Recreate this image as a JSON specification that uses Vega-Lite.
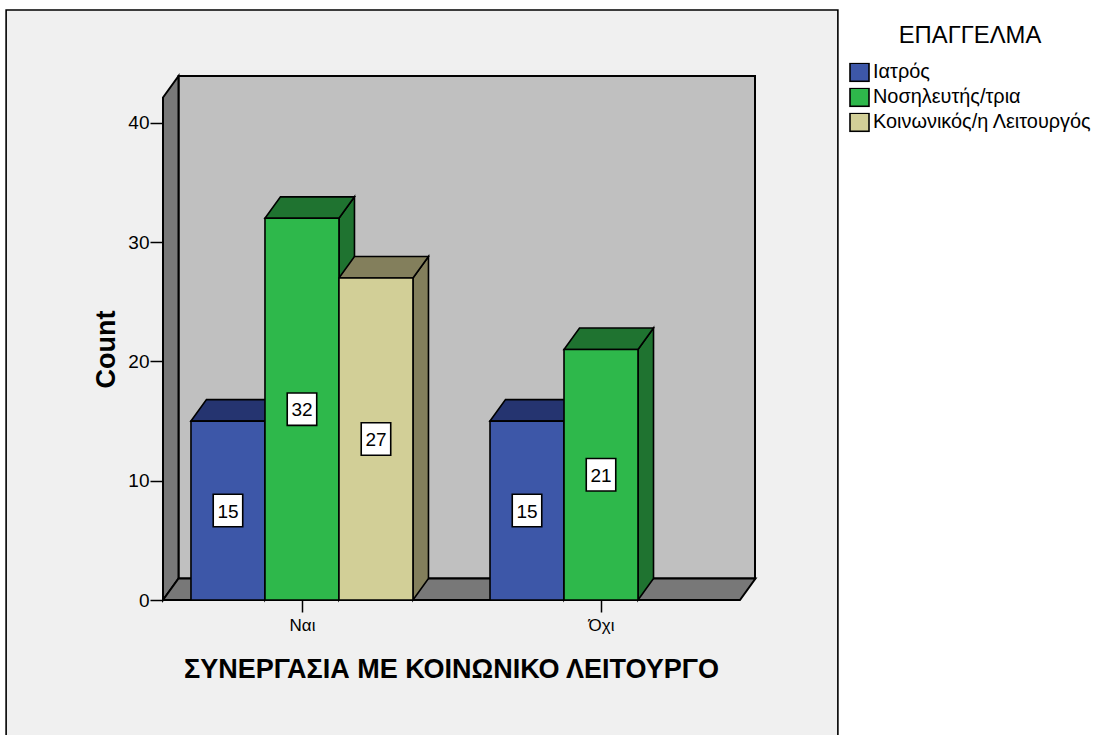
{
  "$schema": "https://vega.github.io/schema/vega-lite/v6.json",
  "autosize": {"type": "none"},
  "padding": {"left": 163, "top": 76, "right": 342, "bottom": 135},
  "width": 592,
  "height": 524,
  "background": "#ffffff",
  "config": {
    "view": {"stroke": null},
    "font": "Liberation Sans"
  },
  "datasets": {
    "counts": [
      {"cooperation": "Ναι", "profession": "Ιατρός", "count": 15},
      {"cooperation": "Ναι", "profession": "Νοσηλευτής/τρια", "count": 32},
      {"cooperation": "Ναι", "profession": "Κοινωνικός/η Λειτουργός", "count": 27},
      {"cooperation": "Όχι", "profession": "Ιατρός", "count": 15},
      {"cooperation": "Όχι", "profession": "Νοσηλευτής/τρια", "count": 21}
    ],
    "single": [{"face": "frame"}]
  },
  "layer": [
    {
      "description": "Light panel behind the whole chart",
      "data": {"name": "single"},
      "mark": {"type": "rect", "fill": "#f0f0f0", "stroke": "#000000", "strokeWidth": 1.6, "clip": false},
      "encoding": {
        "x": {"datum": -2.12, "type": "quantitative", "scale": {"domain": [0, 8], "nice": false, "zero": false},
          "title": "ΣΥΝΕΡΓΑΣΙΑ ΜΕ ΚΟΙΝΩΝΙΚΟ ΛΕΙΤΟΥΡΓΟ",
          "axis": {
            "values": [1.878, 5.919],
            "labelExpr": "datum.value < 3 ? 'Ναι' : 'Όχι'",
            "zindex": 1, "grid": false, "domain": false,
            "tickColor": "#000000", "tickSize": 12, "tickWidth": 1.5,
            "labelColor": "#000000", "labelFont": "Liberation Sans", "labelFontSize": 17, "labelPadding": 5,
            "titleColor": "#000000", "titleFont": "Liberation Sans", "titleFontSize": 27, "titleFontWeight": "bold",
            "titleX": 288, "titleY": 69, "titleAnchor": "middle", "titleAlign": "center", "titleBaseline": "middle"
          }},
        "x2": {"datum": 9.12},
        "y": {"datum": 49.46, "type": "quantitative", "scale": {"domain": [0, 43.93], "nice": false, "zero": false},
          "title": "Count",
          "axis": {
            "values": [0, 10, 20, 30, 40],
            "zindex": 1, "grid": false, "domain": false,
            "tickColor": "#000000", "tickSize": 13, "tickWidth": 1.5,
            "labelColor": "#000000", "labelFont": "Liberation Sans", "labelFontSize": 19, "labelPadding": 1,
            "titleColor": "#000000", "titleFont": "Liberation Sans", "titleFontSize": 27, "titleFontWeight": "bold",
            "titleX": -57, "titleY": 273, "titleAnchor": "middle", "titleAlign": "center", "titleBaseline": "middle"
          }},
        "y2": {"datum": -20}
      }
    },
    {
      "description": "Back wall of the box",
      "data": {"name": "single"},
      "mark": {"type": "rect", "fill": "#c0c0c0", "stroke": "#000000", "strokeWidth": 2},
      "encoding": {
        "x": {"datum": 0.2095, "type": "quantitative", "title": "ΣΥΝΕΡΓΑΣΙΑ ΜΕ ΚΟΙΝΩΝΙΚΟ ΛΕΙΤΟΥΡΓΟ"},
        "x2": {"datum": 8},
        "y": {"datum": 1.8, "type": "quantitative", "title": "Count"},
        "y2": {"datum": 43.93}
      }
    },
    {
      "description": "Left wall, a parallelogram running into the depth",
      "data": {"name": "single"},
      "transform": [
        {"calculate": "[0, 1]", "as": "corner"},
        {"flatten": ["corner"]},
        {"calculate": "datum.corner * 0.2095", "as": "px"},
        {"calculate": "datum.corner * 1.8", "as": "low"},
        {"calculate": "42.13 + datum.corner * 1.8", "as": "high"}
      ],
      "mark": {"type": "area", "fill": "#787878", "stroke": "#000000", "strokeWidth": 2, "clip": false},
      "encoding": {
        "x": {"field": "px", "type": "quantitative", "title": "ΣΥΝΕΡΓΑΣΙΑ ΜΕ ΚΟΙΝΩΝΙΚΟ ΛΕΙΤΟΥΡΓΟ"},
        "y": {"field": "high", "type": "quantitative", "title": "Count"},
        "y2": {"field": "low"}
      }
    },
    {
      "description": "Floor of the box",
      "data": {"name": "single"},
      "transform": [
        {"calculate": "[0, 1, 2, 3]", "as": "corner"},
        {"flatten": ["corner"]},
        {"calculate": "[0, 0.2095, 7.797, 8.0065][datum.corner]", "as": "px"},
        {"calculate": "datum.corner == 0 ? 0 : 1.8", "as": "high"},
        {"calculate": "datum.corner == 3 ? 1.8 : 0", "as": "low"}
      ],
      "mark": {"type": "area", "fill": "#787878", "stroke": "#000000", "strokeWidth": 2, "clip": false},
      "encoding": {
        "x": {"field": "px", "type": "quantitative", "title": "ΣΥΝΕΡΓΑΣΙΑ ΜΕ ΚΟΙΝΩΝΙΚΟ ΛΕΙΤΟΥΡΓΟ"},
        "y": {"field": "high", "type": "quantitative", "title": "Count"},
        "y2": {"field": "low"}
      }
    },
    {
      "description": "Right-hand faces of the bars",
      "data": {"name": "counts"},
      "transform": [
        {"calculate": "(datum.cooperation == 'Ναι' ? 1.878 : 5.919) + (datum.profession == 'Ιατρός' ? -1.5 : datum.profession == 'Νοσηλευτής/τρια' ? -0.5 : 0.5)", "as": "left"},
        {"calculate": "datum.cooperation + datum.profession", "as": "bar"},
        {"calculate": "[0, 1]", "as": "corner"},
        {"flatten": ["corner"]},
        {"calculate": "datum.left + 1 + datum.corner * 0.2095", "as": "px"},
        {"calculate": "datum.count + datum.corner * 1.8", "as": "high"},
        {"calculate": "datum.corner * 1.8", "as": "low"}
      ],
      "mark": {"type": "area", "stroke": "#000000", "strokeWidth": 1.6, "opacity": 1},
      "encoding": {
        "x": {"field": "px", "type": "quantitative", "title": "ΣΥΝΕΡΓΑΣΙΑ ΜΕ ΚΟΙΝΩΝΙΚΟ ΛΕΙΤΟΥΡΓΟ"},
        "y": {"field": "high", "type": "quantitative", "title": "Count"},
        "y2": {"field": "low"},
        "detail": {"field": "bar"},
        "color": {"field": "profession", "type": "nominal", "legend": null,
          "scale": {"domain": ["Ιατρός", "Νοσηλευτής/τρια", "Κοινωνικός/η Λειτουργός"], "range": ["#253470", "#1f7330", "#837f5c"]}}
      }
    },
    {
      "description": "Top faces of the bars",
      "data": {"name": "counts"},
      "transform": [
        {"calculate": "(datum.cooperation == 'Ναι' ? 1.878 : 5.919) + (datum.profession == 'Ιατρός' ? -1.5 : datum.profession == 'Νοσηλευτής/τρια' ? -0.5 : 0.5)", "as": "left"},
        {"calculate": "datum.cooperation + datum.profession", "as": "bar"},
        {"calculate": "[0, 1, 2, 3]", "as": "corner"},
        {"flatten": ["corner"]},
        {"calculate": "datum.left + [0, 0.2095, 1, 1.2095][datum.corner]", "as": "px"},
        {"calculate": "datum.count + (datum.corner == 0 ? 0 : 1.8)", "as": "high"},
        {"calculate": "datum.count + (datum.corner == 3 ? 1.8 : 0)", "as": "low"}
      ],
      "mark": {"type": "area", "stroke": "#000000", "strokeWidth": 1.6, "opacity": 1},
      "encoding": {
        "x": {"field": "px", "type": "quantitative", "title": "ΣΥΝΕΡΓΑΣΙΑ ΜΕ ΚΟΙΝΩΝΙΚΟ ΛΕΙΤΟΥΡΓΟ"},
        "y": {"field": "high", "type": "quantitative", "title": "Count"},
        "y2": {"field": "low"},
        "detail": {"field": "bar"},
        "color": {"field": "profession", "type": "nominal", "legend": null,
          "scale": {"domain": ["Ιατρός", "Νοσηλευτής/τρια", "Κοινωνικός/η Λειτουργός"], "range": ["#253470", "#1f7330", "#837f5c"]}}
      }
    },
    {
      "description": "Front faces of the bars, which carry the legend",
      "data": {"name": "counts"},
      "transform": [
        {"calculate": "(datum.cooperation == 'Ναι' ? 1.878 : 5.919) + (datum.profession == 'Ιατρός' ? -1.5 : datum.profession == 'Νοσηλευτής/τρια' ? -0.5 : 0.5)", "as": "left"},
        {"calculate": "datum.left + 1", "as": "right"}
      ],
      "mark": {"type": "rect", "stroke": "#000000", "strokeWidth": 1.6, "opacity": 1},
      "encoding": {
        "x": {"field": "left", "type": "quantitative", "title": "ΣΥΝΕΡΓΑΣΙΑ ΜΕ ΚΟΙΝΩΝΙΚΟ ΛΕΙΤΟΥΡΓΟ"},
        "x2": {"field": "right"},
        "y": {"field": "count", "type": "quantitative", "title": "Count"},
        "y2": {"datum": 0},
        "color": {"field": "profession", "type": "nominal",
          "scale": {"domain": ["Ιατρός", "Νοσηλευτής/τρια", "Κοινωνικός/η Λειτουργός"], "range": ["#3d57a8", "#2eb84b", "#d2cf97"]},
          "legend": {
            "orient": "none", "legendX": 686, "legendY": -52,
            "title": "ΕΠΑΓΓΕΛΜΑ",
            "titleFont": "Liberation Sans", "titleFontSize": 23.8, "titleFontWeight": "normal", "titleColor": "#000000",
            "titleAnchor": "middle", "titleLimit": 300, "titlePadding": 15,
            "labelFont": "Liberation Sans", "labelFontSize": 19.9, "labelColor": "#000000", "labelLimit": 320, "labelOffset": 3,
            "symbolType": "M-1,-0.95H1V0.95H-1Z", "symbolSize": 361, "symbolStrokeColor": "#000000", "symbolStrokeWidth": 1.6, "symbolOpacity": 1,
            "rowPadding": 4, "clipHeight": 19
          }}
      }
    },
    {
      "description": "White boxes behind the value labels",
      "data": {"name": "counts"},
      "transform": [
        {"calculate": "(datum.cooperation == 'Ναι' ? 1.878 : 5.919) + (datum.profession == 'Ιατρός' ? -1 : datum.profession == 'Νοσηλευτής/τρια' ? 0 : 1)", "as": "middle"},
        {"calculate": "datum.count / 2", "as": "half"}
      ],
      "mark": {"type": "point", "shape": "M-1,-1.1H1V1.1H-1Z", "size": 870, "filled": true, "fill": "#ffffff", "stroke": "#000000", "strokeWidth": 1.6, "opacity": 1},
      "encoding": {
        "x": {"field": "middle", "type": "quantitative", "title": "ΣΥΝΕΡΓΑΣΙΑ ΜΕ ΚΟΙΝΩΝΙΚΟ ΛΕΙΤΟΥΡΓΟ"},
        "y": {"field": "half", "type": "quantitative", "title": "Count"}
      }
    },
    {
      "description": "Value labels at the middle of each bar",
      "data": {"name": "counts"},
      "transform": [
        {"calculate": "(datum.cooperation == 'Ναι' ? 1.878 : 5.919) + (datum.profession == 'Ιατρός' ? -1 : datum.profession == 'Νοσηλευτής/τρια' ? 0 : 1)", "as": "middle"},
        {"calculate": "datum.count / 2", "as": "half"}
      ],
      "mark": {"type": "text", "font": "Liberation Sans", "fontSize": 19, "color": "#000000", "align": "center", "baseline": "middle", "dy": 1},
      "encoding": {
        "x": {"field": "middle", "type": "quantitative", "title": "ΣΥΝΕΡΓΑΣΙΑ ΜΕ ΚΟΙΝΩΝΙΚΟ ΛΕΙΤΟΥΡΓΟ"},
        "y": {"field": "half", "type": "quantitative", "title": "Count"},
        "text": {"field": "count", "type": "quantitative"}
      }
    }
  ],
  "resolve": {"scale": {"color": "independent"}}
}
